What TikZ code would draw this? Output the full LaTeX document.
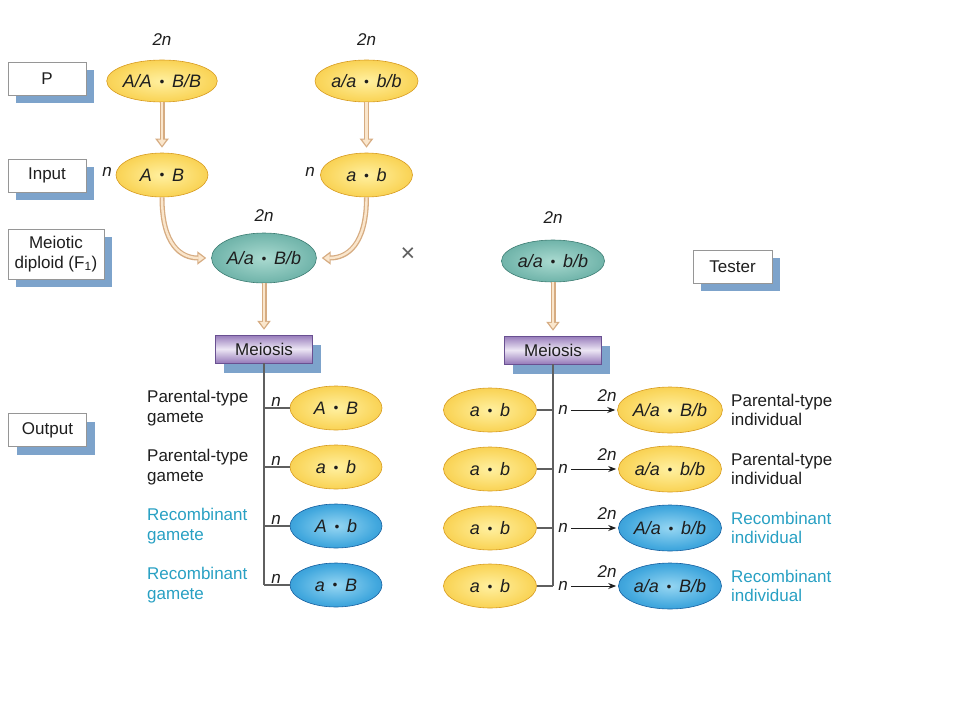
\documentclass[tikz,border=0pt]{standalone}
\usepackage{fontspec}
\setmainfont{Liberation Sans}
\usepackage{graphicx}
\usetikzlibrary{shapes.geometric,arrows.meta,shadows,positioning}

\definecolor{ink}{RGB}{30,30,30}
\definecolor{boxln}{RGB}{150,150,150}
\definecolor{shblue}{RGB}{125,163,203}
\definecolor{tanln}{RGB}{214,172,130}
\definecolor{beige}{RGB}{250,230,204}
\definecolor{recomb}{RGB}{40,160,195}
\definecolor{purp}{RGB}{150,122,186}
\definecolor{purplt}{RGB}{236,230,244}
\definecolor{purpdk}{RGB}{105,80,145}
\definecolor{lnk}{RGB}{95,95,95}
\definecolor{yelA}{RGB}{255,240,160}
\definecolor{yelB}{RGB}{250,214,92}
\definecolor{yelC}{RGB}{234,168,34}
\definecolor{tealA}{RGB}{170,218,208}
\definecolor{tealB}{RGB}{118,184,174}
\definecolor{tealC}{RGB}{66,140,130}
\definecolor{bluA}{RGB}{150,214,242}
\definecolor{bluB}{RGB}{66,168,222}
\definecolor{bluC}{RGB}{20,108,178}
\definecolor{yel}{RGB}{215,155,30}
\definecolor{teal}{RGB}{60,125,115}
\definecolor{blu}{RGB}{20,95,160}

\pgfdeclareradialshading{yel}{\pgfpoint{0bp}{0bp}}{color(0bp)=(yelA); color(22bp)=(yelB); color(50bp)=(yelC)}
\pgfdeclareradialshading{teal}{\pgfpoint{0bp}{0bp}}{color(0bp)=(tealA); color(22bp)=(tealB); color(50bp)=(tealC)}
\pgfdeclareradialshading{blu}{\pgfpoint{0bp}{0bp}}{color(0bp)=(bluA); color(22bp)=(bluB); color(50bp)=(bluC)}

\newcommand{\fsz}{\fontsize{17}{19.5}\selectfont}
\newcommand{\fgn}{\fontsize{18}{20}\selectfont}
\newcommand{\gd}{\hspace{0.15em}\raisebox{0.15ex}{\scalebox{0.75}{\textbullet}}\hspace{0.15em}}

\begin{document}
\begin{tikzpicture}[x=1pt,y=-1pt,
    tag/.style={draw=boxln, fill=white, font=\fsz, text=ink, inner sep=0pt,
        minimum width=78pt, minimum height=33pt,
        general shadow={fill=shblue, shadow xshift=8pt, shadow yshift=-8pt}},
    gam/.style={ellipse, inner sep=0pt, line width=0.6pt, minimum width=92pt,
        minimum height=44pt, font=\fgn\itshape, text=ink},
    big/.style={minimum width=103pt, minimum height=42pt},
    meio/.style={draw=purpdk, top color=purp, bottom color=purp, middle color=purplt,
        minimum width=97pt, minimum height=28pt, inner sep=0pt, font=\fsz, text=ink,
        general shadow={fill=shblue, shadow xshift=8pt, shadow yshift=-10pt}},
    num/.style={font=\fsz\itshape, text=ink},
    txt/.style={font=\fsz, align=left, anchor=west, inner sep=0pt},
    link/.style={draw=lnk, line width=1.2pt},
    arr/.style={draw=ink, line width=0.9pt, -{Stealth[length=8pt,width=6pt]}, shorten >=2pt},
    fat/.style={draw=tanln, line width=5pt, -{Triangle[length=9pt,width=13pt]}, shorten >=5pt,
        postaction={draw=beige, line width=2.4pt, shorten >=7pt, -{Triangle[length=6pt,width=8pt]}}}]
\useasboundingbox (0,0) rectangle (960,720);

% row labels
\node[tag] (P) at (47,78.5) {P};
\node[tag] (inp) at (47,175.5) {Input};
\node[tag, minimum width=96pt, minimum height=50pt, align=center] (mdip) at (56,254) {Meiotic\\diploid (F\textsubscript{1})};
\node[tag] (outp) at (47.5,430) {Output};
\node[tag, minimum width=79pt] (tst) at (732.5,266.5) {Tester};

% parents and input gametes
\node[gam, big, shading=yel, draw=yel] (pAB) at (162,81) {A/A \gd{} B/B};
\node[gam, big, shading=yel, draw=yel] (pab) at (366.5,81) {a/a \gd{} b/b};
\node[num] (pAB2n) at (162,40) {2n};
\node[num] (pab2n) at (366.5,40) {2n};
\node[gam, shading=yel, draw=yel] (iAB) at (162,175) {A \gd{} B};
\node[gam, shading=yel, draw=yel] (iab) at (366.5,175) {a \gd{} b};
\node[num] (iABn) at (107,172) {n};
\node[num] (iabn) at (310,172) {n};

% F1 and tester
\node[gam, minimum width=102pt, minimum height=50pt, shading=teal, draw=teal] (f1) at (264,258) {A/a \gd{} B/b};
\node[num] (f12n) at (264,216) {2n};
\node[gam, big, shading=teal, draw=teal] (tstr) at (553,261) {a/a \gd{} b/b};
\node[num] (tstr2n) at (553,218) {2n};
\node[font=\fontsize{25}{25}\selectfont, text=lnk] (cross) at (408,255) {×};

\draw[fat] (pAB.south) -- (iAB.north);
\draw[fat] (pab.south) -- (iab.north);
\draw[fat] (iAB.south) .. controls +(0,48) and +(-30,0) .. (f1.west);
\draw[fat] (iab.south) .. controls +(0,48) and +(30,0) .. (f1.east);

% meiosis
\node[meio] (m1) at (264,349) {Meiosis};
\node[meio] (m2) at (553,350) {Meiosis};
\draw[fat] (f1.south) -- (m1.north);
\draw[fat] (tstr.south) -- (m2.north);

% gametes of the F1
\foreach \i/\y/\g/\s/\t/\c in {1/408/{A \gd{} B}/yel/Parental-type/ink,
        2/467/{a \gd{} b}/yel/Parental-type/ink,
        3/526/{A \gd{} b}/blu/Recombinant/recomb,
        4/585/{a \gd{} B}/blu/Recombinant/recomb}{
    \node[gam, shading=\s, draw=\s] (g\i) at (336,\y) {\g};
    \draw[link] (m1.south |- g\i.west) -- (g\i.west);
    \node[num, anchor=south, inner sep=1pt] (gn\i) at (276,\y) {n};
    \node[txt, text=\c] (gt\i) at (147,\y) {\t\\gamete};
}
\draw[link] (m1.south) -- (m1.south |- g4.west);

% testcross progeny
\foreach \i/\y/\g/\s/\t/\c in {1/410/{A/a \gd{} B/b}/yel/Parental-type/ink,
        2/469/{a/a \gd{} b/b}/yel/Parental-type/ink,
        3/528/{A/a \gd{} b/b}/blu/Recombinant/recomb,
        4/586/{a/a \gd{} B/b}/blu/Recombinant/recomb}{
    \node[gam, minimum width=93pt, shading=yel, draw=yel] (t\i) at (490,\y) {a \gd{} b};
    \node[gam, big, minimum height=46pt, shading=\s, draw=\s] (r\i) at (670,\y) {\g};
    \draw[link] (t\i.east) -- (m2.south |- t\i.east);
    \node[num] (rn\i) at (563,\y) {n};
    \draw[arr] (rn\i.east) -- (r\i.west);
    \node[num] (r2n\i) at (607,\y-14) {2n};
    \node[txt, text=\c] (rt\i) at (731,\y) {\t\\individual};
}
\draw[link] (m2.south) -- (m2.south |- t4.east);
\end{tikzpicture}
\end{document}
